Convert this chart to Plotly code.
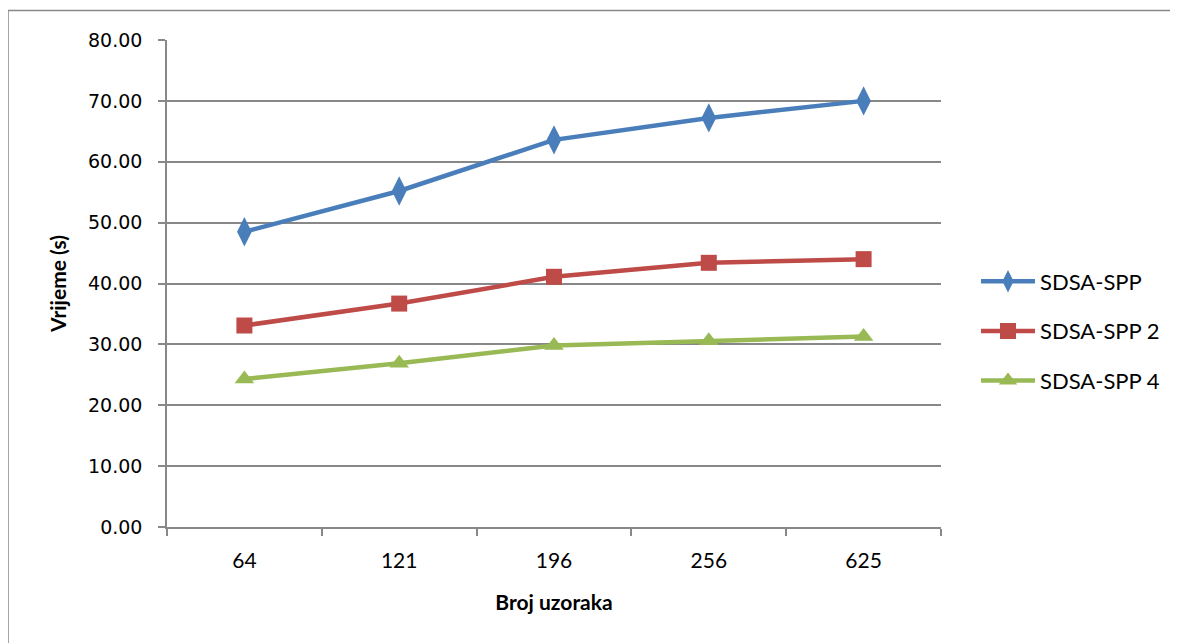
import plotly.graph_objects as go

categories = ["64", "121", "196", "256", "625"]
sdsa_spp = [48.5, 55.2, 63.6, 67.2, 70.0]
sdsa_spp2 = [33.1, 36.7, 41.1, 43.4, 44.0]
sdsa_spp4 = [24.3, 26.9, 29.8, 30.6, 31.3]

series = [
    ("SDSA-SPP", sdsa_spp, "#4a7ebb", "diamond-tall", 21),
    ("SDSA-SPP 2", sdsa_spp2, "#be4b48", "square", 16),
    ("SDSA-SPP 4", sdsa_spp4, "#98b954", "triangle-up", 17),
]

NARROW = "Liberation Sans Narrow, Lato, sans-serif"

fig = go.Figure()
for i, (name, vals, col, sym, sz) in enumerate(series):
    fig.add_trace(go.Scatter(
        x=categories, y=vals, name=name, mode="lines+markers",
        line=dict(color=col, width=4.5),
        marker=dict(symbol=sym, size=sz, color=col),
        legendgroup=f"g{i}",
    ))

# page body has an 8px margin, so the figure is laid out 8px in from the window edge
OFF = 8
W, H = 1178 - OFF, 643 - OFF
L, R, T, B = 167 - OFF, 941 - OFF, 40 - OFF, 527 - OFF
pw, ph = R - L, B - T

def px_x(p):
    return (p - OFF - L) / pw

def px_y(p):
    return (B - (p - OFF)) / ph

fig.update_layout(
    width=W, height=H,
    margin=dict(l=L, r=W - R, t=T, b=H - B, autoexpand=False),
    paper_bgcolor="white", plot_bgcolor="white",
    font=dict(family=NARROW, color="black"),
    showlegend=True,
    legend=dict(
        x=px_x(976), y=px_y(331), xanchor="left", yanchor="middle",
        font=dict(size=22, family=NARROW),
        traceorder="grouped", tracegroupgap=18,
        itemwidth=54,
        bgcolor="rgba(0,0,0,0)",
    ),
    xaxis=dict(
        type="category", showgrid=False, showline=True, linecolor="#888888", linewidth=1.5,
        ticks="outside", ticklen=7, tickcolor="#888888", tickwidth=1.5,
        tickson="boundaries", ticklabelstandoff=14,
        tickfont=dict(size=21, family=NARROW),
        title=dict(text="<b>Broj uzoraka</b>", font=dict(size=21, family=NARROW), standoff=24),
        range=[-0.5, 4.5],
    ),
    yaxis=dict(
        range=[0, 80], dtick=10, tickformat=".2f",
        showgrid=True, gridcolor="#888888", gridwidth=1.5,
        showline=True, linecolor="#888888", linewidth=1.5,
        ticks="outside", ticklen=7, tickcolor="#888888", tickwidth=1.5,
        ticklabelstandoff=12,
        tickfont=dict(size=19, family="DejaVu Sans, sans-serif"),
        title=dict(text="<b>Vrijeme (s)</b>", font=dict(size=21, family=NARROW), standoff=16),
        zeroline=False,
    ),
    shapes=[dict(
        type="rect", xref="paper", yref="paper",
        x0=px_x(8), x1=px_x(1200), y0=px_y(670), y1=px_y(10.5),
        line=dict(color="#888888", width=1.5), fillcolor="rgba(0,0,0,0)", layer="below",
    )],
)

fig.write_html("out.html")
